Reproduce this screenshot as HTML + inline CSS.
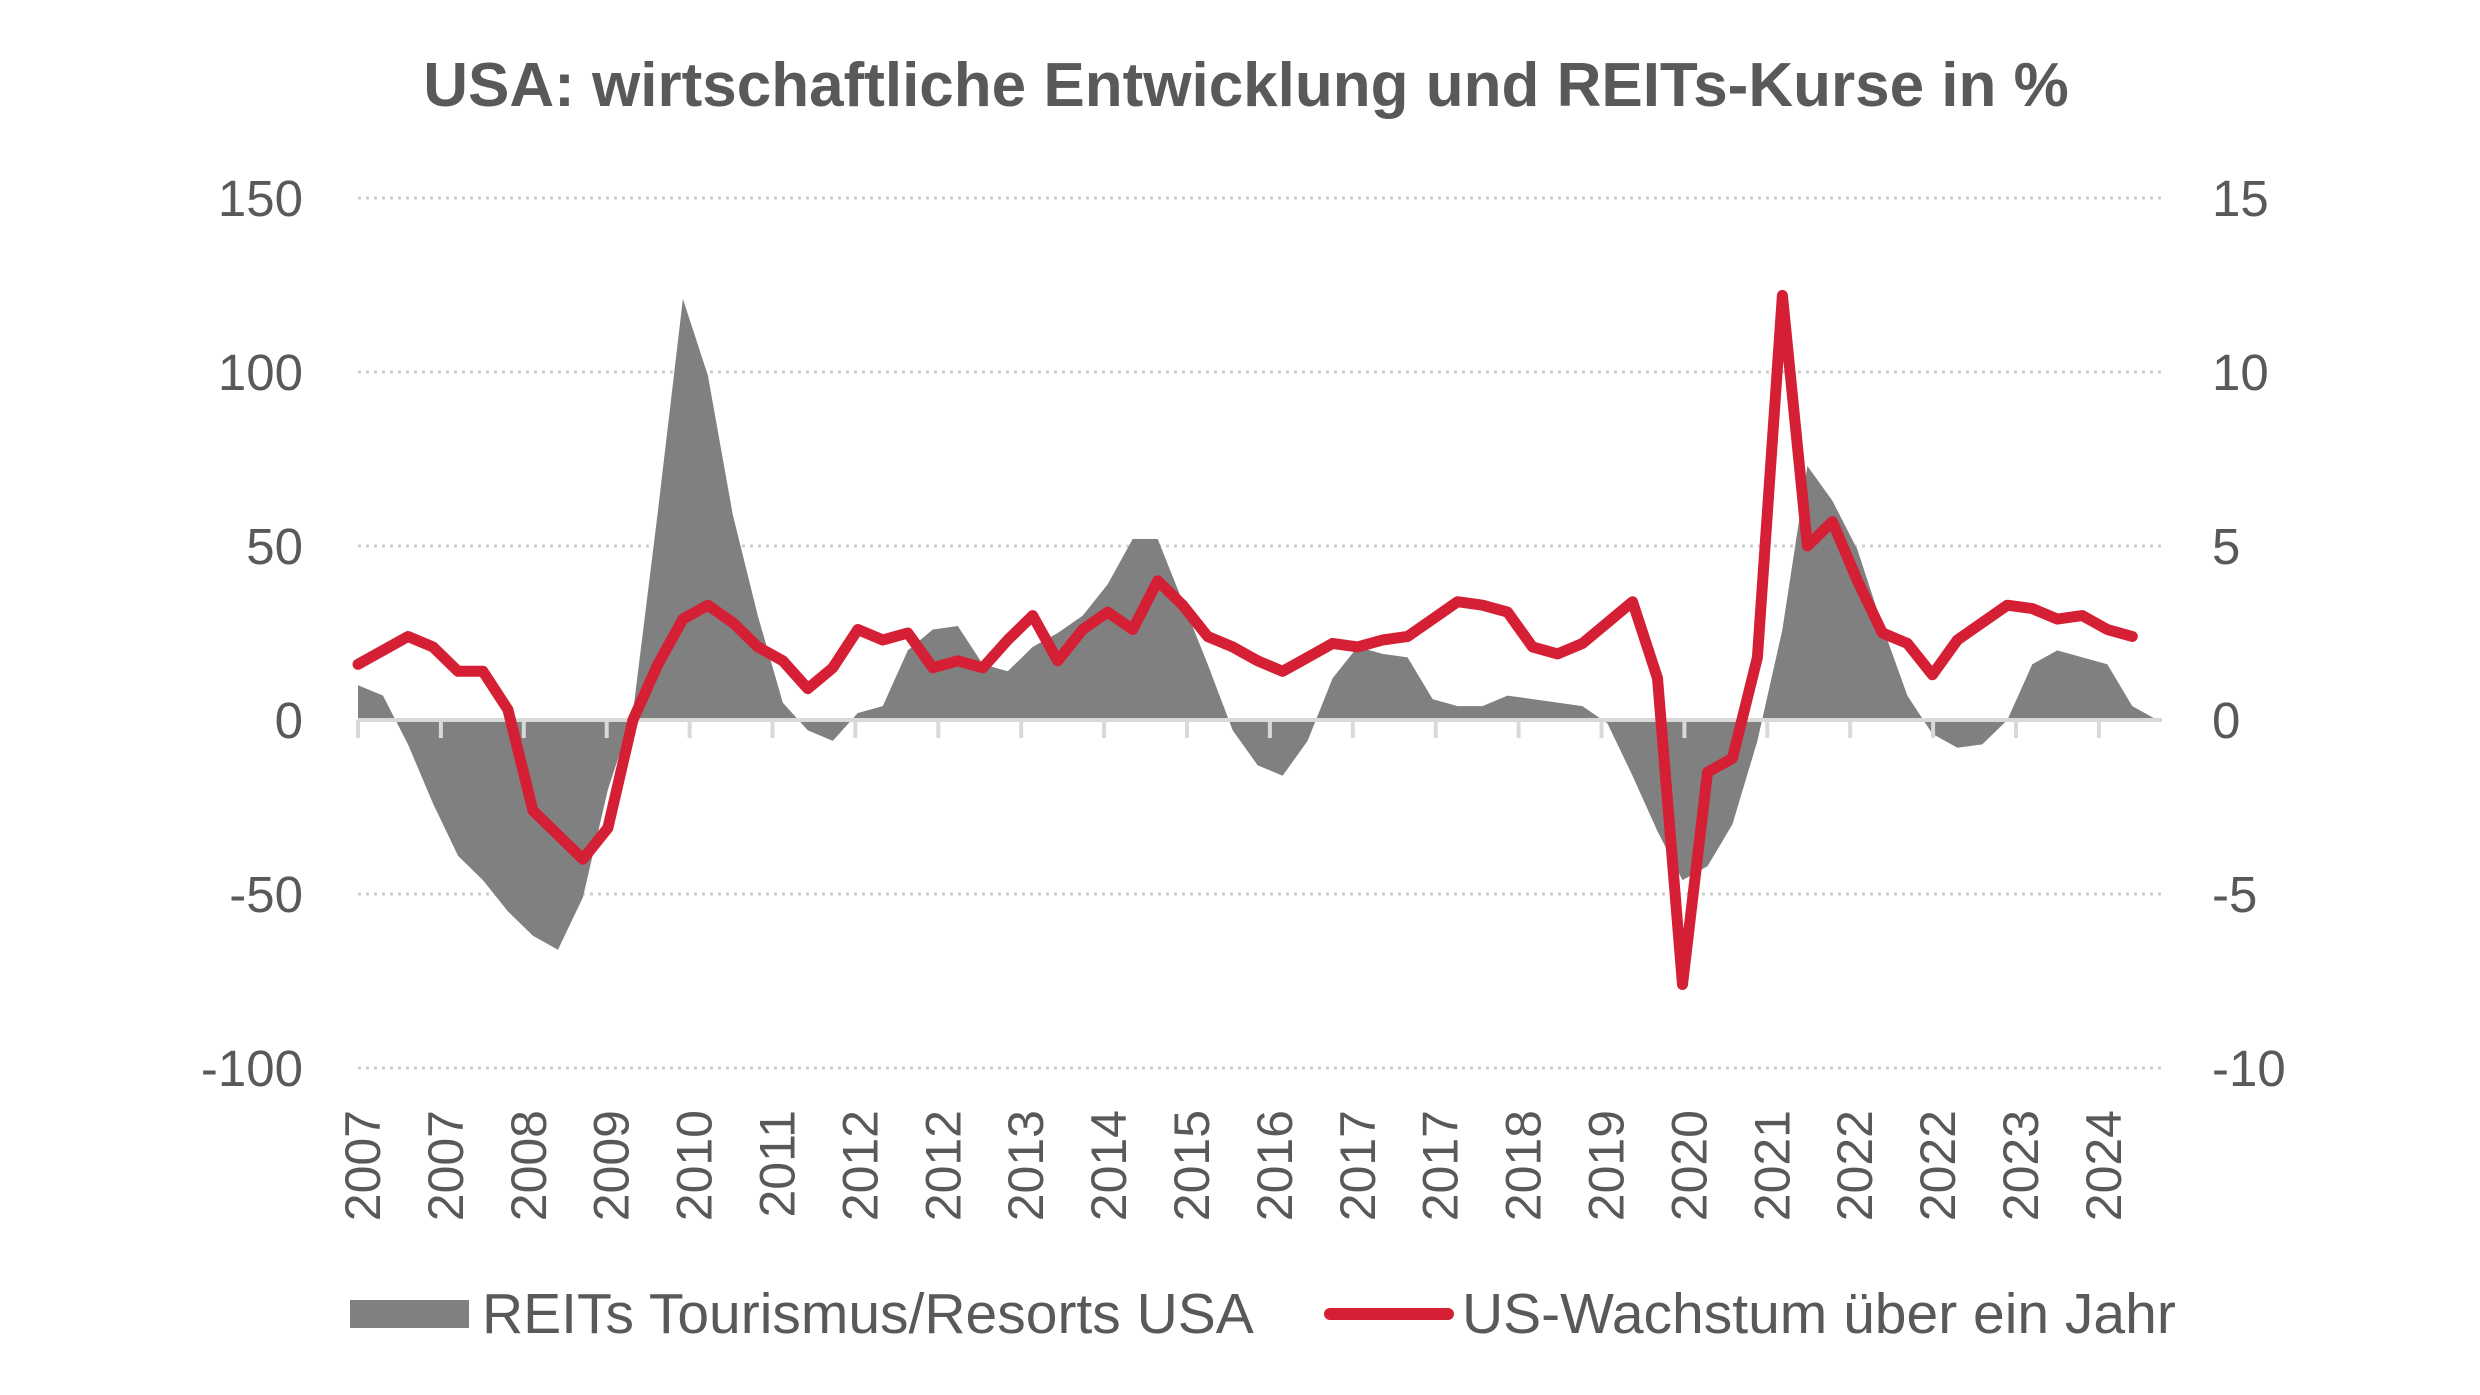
<!DOCTYPE html>
<html><head><meta charset="utf-8"><style>
html,body{margin:0;padding:0;background:#fff;width:2480px;height:1395px;overflow:hidden}
svg{display:block;font-family:"Liberation Sans",sans-serif}
</style></head><body>
<svg id="chart" width="2480" height="1395" viewBox="0 0 2480 1395" xmlns="http://www.w3.org/2000/svg">
<text x="1246" y="106" text-anchor="middle" font-size="62" font-weight="bold" fill="#595959">USA: wirtschaftliche Entwicklung und REITs-Kurse in %</text>
<g id="grid"></g><g id="area"></g><g id="axis"></g><g id="line"></g><g id="labels"></g>
<g>
<rect x="350" y="1300" width="119" height="28" fill="#808080"/>
<text x="482" y="1333" font-size="57" fill="#595959">REITs Tourismus/Resorts USA</text>
<line x1="1330" y1="1314" x2="1448" y2="1314" stroke="#d51f35" stroke-width="12" stroke-linecap="round"/>
<text x="1462" y="1333" font-size="57" fill="#595959">US-Wachstum über ein Jahr</text>
</g>
</svg>
<script>
const leftTicks=[150,100,50,0,-50,-100];
const rightTicks=[15,10,5,0,-5,-10];
const xLabels=["2007","2007","2008","2009","2010","2011","2012","2012","2013","2014","2015","2016","2017","2017","2018","2019","2020","2021","2022","2022","2023","2024"];
const reits=[10,7,-7,-24,-39,-46,-55,-62,-66,-51,-20,2,60,121,99,59,30,5,-3,-6,2,4,20,26,27,16,14,21,25,30,39,52,52,34,16,-3,-13,-16,-6,12,21,19,18,6,4,4,7,6,5,4,-1,-16,-32,-46,-42,-30,-6,26,73,63,49,27,7,-4,-8,-7,0,16,20,18,16,4,0];
const growth=[1.6,2.0,2.4,2.1,1.4,1.4,0.3,-2.6,-3.3,-4.0,-3.1,0,1.6,2.9,3.3,2.8,2.1,1.7,0.9,1.5,2.6,2.3,2.5,1.5,1.7,1.5,2.3,3.0,1.7,2.6,3.1,2.6,4.0,3.3,2.4,2.1,1.7,1.4,1.8,2.2,2.1,2.3,2.4,2.9,3.4,3.3,3.1,2.1,1.9,2.2,2.8,3.4,1.2,-7.6,-1.5,-1.1,1.8,12.2,5.0,5.7,4.0,2.5,2.2,1.3,2.3,2.8,3.3,3.2,2.9,3.0,2.6,2.4];
const NS="http://www.w3.org/2000/svg";
const X0=358,DX=24.99,Y0=720,K=3.48,XR=2162;
const x=i=>X0+i*DX;
const yL=v=>Y0-v*K;
const yR=v=>Y0-v*10*K;
function mk(tag,parent,attrs){const e=document.createElementNS(NS,tag);for(const k in attrs)e.setAttribute(k,attrs[k]);parent.appendChild(e);return e;}
const grid=document.getElementById('grid'),labels=document.getElementById('labels');
leftTicks.forEach((v,i)=>{
 if(v!==0){const g=mk('line',grid,{x1:X0,x2:XR,y1:yL(v),y2:yL(v),stroke:'#cfcfcf','stroke-width':3,'stroke-dasharray':'3 5'});
 
 }
 const t=mk('text',labels,{x:303,y:yL(v)+18,'text-anchor':'end','font-size':51,fill:'#595959'});t.textContent=v;
 
 
});
rightTicks.forEach(v=>{
 const t=mk('text',labels,{x:2212,y:yR(v)+18,'font-size':51,fill:'#595959'});t.textContent=v;
 
 
});
let d='M'+x(0)+','+Y0;
reits.forEach((v,i)=>{d+=' L'+x(i).toFixed(1)+','+yL(v).toFixed(1);});
d+=' L'+x(reits.length-1)+','+Y0+' Z';
const a=mk('path',document.getElementById('area'),{d:d,fill:'#808080'});


const ax=document.getElementById('axis');
const al=mk('line',ax,{x1:X0,x2:XR,y1:Y0,y2:Y0,stroke:'#d9d9d9','stroke-width':4});


const LS=82.9;
xLabels.forEach((s,j)=>{
 const tx=X0+j*LS;
 const tk=mk('line',ax,{x1:tx,x2:tx,y1:Y0,y2:Y0+18,stroke:'#d9d9d9','stroke-width':4});
 
 
 const lx=tx+4+18,ly=1110;
 const t=mk('text',labels,{x:lx,y:ly,'text-anchor':'end','font-size':50,fill:'#595959',transform:'rotate(-90 '+lx+' '+ly+')'});t.textContent=s;
 
 
});
const pts=growth.map((v,i)=>x(i).toFixed(1)+','+yR(v).toFixed(1)).join(' ');
const pl=mk('polyline',document.getElementById('line'),{points:pts,fill:'none',stroke:'#d51f35','stroke-width':11,'stroke-linejoin':'round','stroke-linecap':'round'});


</script>
</body></html>
